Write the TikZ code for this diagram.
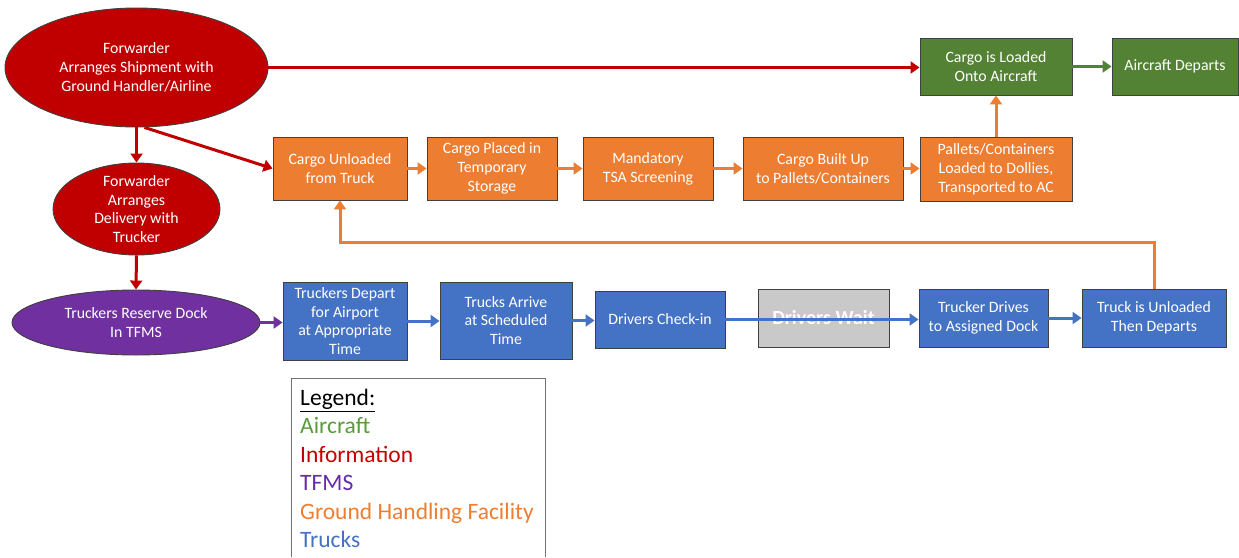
\documentclass[tikz,border=0pt]{standalone}
\usepackage{fontspec}
\setmainfont{Carlito}
\usetikzlibrary{shapes.geometric,arrows.meta,calc}
\definecolor{cred}{HTML}{C00000}
\definecolor{corange}{HTML}{ED7D31}
\definecolor{cgreen}{HTML}{548235}
\definecolor{cblue}{HTML}{4472C4}
\definecolor{cpurple}{HTML}{7030A0}
\definecolor{cgray}{HTML}{C9C9C9}
\definecolor{cborder}{HTML}{404040}
\definecolor{lgreen}{HTML}{5B9B3A}
\tikzset{
  base/.style={draw=cborder, line width=0.9pt, text=white, align=center, inner sep=0pt,
    font=\fontsize{15.8}{18.8}\selectfont},
  box/.style={base, rectangle},
  oval/.style={base, ellipse},
  arr/.style={line width=3pt, -{Triangle[length=9pt,width=12pt]}},
}
\begin{document}
\begin{tikzpicture}[x=1pt,y=-1pt]
\useasboundingbox (0,0) rectangle (1239,557);
% ellipses
\node[oval, fill=cred, minimum width=263, minimum height=119, inner ysep=-4pt] (e1) at (136.5,67.5)
  {Forwarder\\Arranges Shipment with\\Ground Handler/Airline};
\node[oval, fill=cred, minimum width=167, minimum height=92, inner ysep=-8pt, inner xsep=-4pt] (e2) at (136.5,209)
  {Forwarder\\Arranges\\Delivery with\\Trucker};
\node[oval, fill=cpurple, minimum width=248, minimum height=65, inner ysep=-4pt] (e3) at (136,322.5)
  {Truckers Reserve Dock\\In TFMS};
% orange
\node[box, fill=corange, minimum width=134, minimum height=63] (unload) at (340,168.5) {Cargo Unloaded\\from Truck};
\node[box, fill=corange, minimum width=130, minimum height=63] (placed) at (492,168.5) {Cargo Placed in\\Temporary\\Storage};
\node[box, fill=corange, minimum width=130, minimum height=63] (tsa) at (648,168.5) {Mandatory\\TSA Screening};
\node[box, fill=corange, minimum width=160, minimum height=63] (buildup) at (823,168.5) {Cargo Built Up\\to Pallets/Containers};
\node[box, fill=corange, minimum width=152, minimum height=64] (pallets) at (996,169) {Pallets/Containers\\Loaded to Dollies,\\Transported to AC};
% green
\node[box, fill=cgreen, minimum width=152, minimum height=57] (loaded) at (996,66.5) {Cargo is Loaded\\Onto Aircraft};
\node[box, fill=cgreen, minimum width=126, minimum height=57] (departs) at (1175,66.5) {Aircraft Departs};
% blue
\node[box, fill=cblue, minimum width=124, minimum height=78] (tdepart) at (345,321) {Truckers Depart\\for Airport\\at Appropriate\\Time};
\node[box, fill=cblue, minimum width=132, minimum height=77] (arrive) at (506,320.5) {Trucks Arrive\\at Scheduled\\Time};
\node[box, fill=cblue, minimum width=130, minimum height=57] (checkin) at (660,319.5) {Drivers Check-in};
\node[box, fill=cgray, minimum width=131, minimum height=58, font=\fontsize{20}{22}\selectfont\bfseries] (wait) at (823.5,318) {Drivers Wait};
\node[box, fill=cblue, minimum width=129, minimum height=58] (drives) at (983.5,318) {Trucker Drives\\to Assigned Dock};
\node[box, fill=cblue, minimum width=144, minimum height=58] (unloaded) at (1154,318) {Truck is Unloaded\\Then Departs};
% arrows
\draw[arr, cred] (e1.east) -- (loaded.west |- e1.east);
\draw[arr, cred] (e1.south) -- (e2.north);
\draw[arr, cred] ($(e1.south)+(8,0)$) -- (unload.west);
\draw[arr, cred] (e2.south) -- (e3.north);
\draw[arr, cpurple] (e3.east) -- (tdepart.west |- e3.east);
\draw[arr, corange] (unload) -- (placed);
\draw[arr, corange] (placed) -- (tsa);
\draw[arr, corange] (tsa) -- (buildup);
\draw[arr, corange] (buildup) -- (pallets.west |- buildup);
\draw[arr, corange] (pallets.north) -- (loaded.south);
\draw[arr, corange] (unloaded.north) -- ++(0,-46) -| (unload.south);
\draw[arr, cgreen] (loaded) -- (departs);
\draw[arr, cblue] (tdepart) -- (arrive.west |- tdepart);
\draw[arr, cblue] (arrive) -- (checkin.west |- arrive);
\draw[arr, cblue] (checkin.east) -- (drives.west |- checkin.east);
\draw[arr, cblue] (drives) -- (unloaded);
% legend
\draw[draw=gray!90!black, line width=1pt] (291,557) |- (545,378) -- (545,557);
\node[anchor=north west, align=left, inner sep=0pt, font=\fontsize{23.5}{28.4}\selectfont] (legend) at (300,389)
  {\underline{Legend:}\\
   \textcolor{lgreen}{Aircraft}\\
   \textcolor{cred!90!red}{Information}\\
   \textcolor{cpurple!90!blue}{TFMS}\\
   \textcolor{corange}{Ground Handling Facility}\\
   \textcolor{cblue}{Trucks}};
\end{tikzpicture}
\end{document}
